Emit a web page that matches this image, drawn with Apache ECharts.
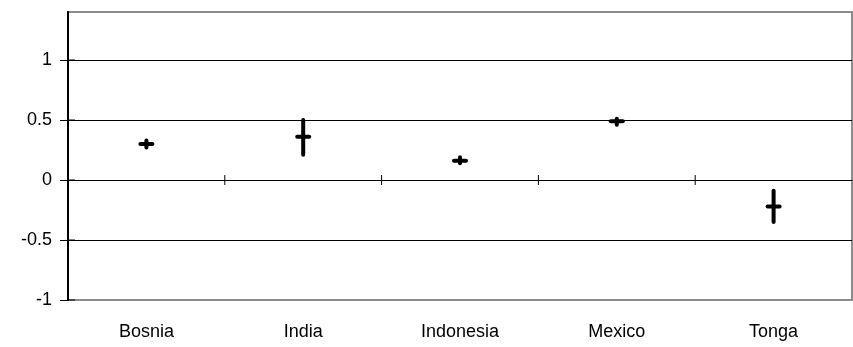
<!DOCTYPE html>
<html>
<head>
<meta charset="utf-8">
<script src="https://cdn.jsdelivr.net/npm/echarts@6/dist/echarts.min.js"></script>
<style>html,body{margin:0;padding:0;background:#fff}#c{width:853px;height:347px}</style>
</head>
<body>
<div id="c"></div>
<script>
const categories = ['Bosnia', 'India', 'Indonesia', 'Mexico', 'Tonga'];
const meanValues = [0.30, 0.36, 0.16, 0.49, -0.22];
const highValues = [0.33, 0.50, 0.19, 0.51, -0.09];
const lowValues = [0.27, 0.21, 0.14, 0.46, -0.35];
const yTicks = [-1, -0.5, 0, 0.5, 1];

const chart = echarts.init(document.getElementById('c'), null, {renderer: 'canvas'});
const data = categories.map((c, i) => [i, meanValues[i], lowValues[i], highValues[i]]);
const font = 'Liberation Sans, Arial, sans-serif';
chart.setOption({
  animation: false,
  grid: {left: 68, right: 1, top: 12, bottom: 47, show: true, borderColor: '#8c8c8c', borderWidth: 2, backgroundColor: 'transparent'},
  xAxis: {
    type: 'category', data: categories, boundaryGap: true,
    position: 'bottom',
    axisLine: {onZero: true, lineStyle: {color: '#000', width: 1}},
    axisTick: {show: false},
    axisLabel: {show: false},
    splitLine: {show: false}
  },
  yAxis: {
    type: 'value', min: -1, max: 1.4, interval: 0.5,
    axisLine: {show: true, lineStyle: {color: '#000', width: 2}},
    axisTick: {show: true, length: 8, lineStyle: {color: '#000'}, customValues: yTicks},
    axisLabel: {color: '#000', fontSize: 18, fontFamily: font, margin: 16, customValues: yTicks},
    splitLine: {show: true, showMinLine: false, showMaxLine: true, lineStyle: {color: '#000', width: 1}}
  },
  series: [{
    type: 'custom',
    data: data,
    renderItem: function (params, api) {
      const x = api.value(0);
      const pm = api.coord([x, api.value(1)]);
      const pl = api.coord([x, api.value(2)]);
      const ph = api.coord([x, api.value(3)]);
      const style = {stroke: '#000', lineWidth: 4, lineCap: 'round'};
      const children = [
        {type: 'line', shape: {x1: pm[0], y1: ph[1], x2: pm[0], y2: pl[1]}, style: style},
        {type: 'line', shape: {x1: pm[0] - 6, y1: pm[1], x2: pm[0] + 6, y2: pm[1]}, style: style}
      ];
      return {type: 'group', children: children};
    },
    z: 5
  }, {
    type: 'custom',
    data: categories.map((c, i) => [i, 0]),
    renderItem: function (params, api) {
      const i = api.value(0);
      const p = api.coord([i, 0]);
      const w = api.size([1, 0])[0];
      const cs = params.coordSys;
      const bottomY = cs.y + cs.height;
      const children = [{
        type: 'text', x: p[0], y: bottomY + 32,
        style: {text: categories[i], fill: '#000', font: '18px ' + font, textAlign: 'center', textVerticalAlign: 'middle'}
      }];
      if (i < categories.length - 1) {
        children.push({type: 'line', shape: {x1: p[0] + w/2, y1: p[1] - 5, x2: p[0] + w/2, y2: p[1] + 5}, style: {stroke: '#000', lineWidth: 1}});
      }
      if (i === 0) {
        yTicks.forEach(function (t) {
          const yy = api.coord([0, t])[1];
          children.push({type: 'line', shape: {x1: cs.x, y1: yy, x2: cs.x + 7, y2: yy}, style: {stroke: '#000', lineWidth: 1}});
        });
      }
      return {type: 'group', children: children};
    },
    z: 4
  }]
});
</script>
</body>
</html>
